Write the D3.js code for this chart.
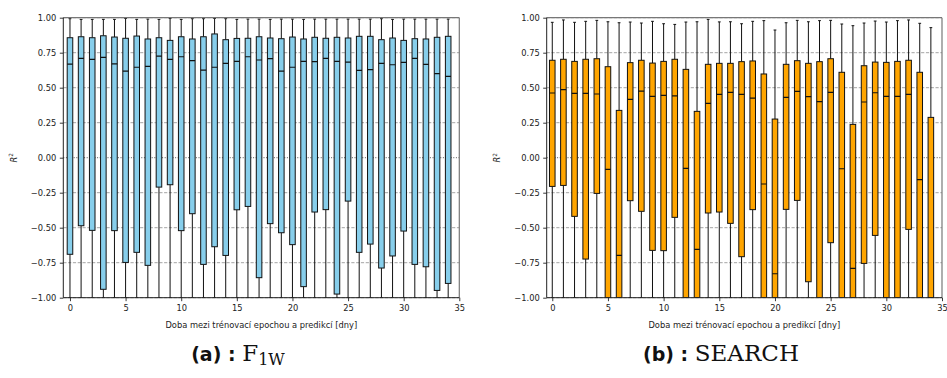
<!DOCTYPE html>
<html>
<head>
<meta charset="utf-8">
<script src="https://cdn.jsdelivr.net/npm/d3@7"></script>
<style>
  html, body { margin: 0; padding: 0; background: #fff; }
  svg { display: block; }
  .tick text { font-family: "DejaVu Sans", sans-serif; font-size: 8.3px; fill: #222; }
  .axis-label { font-family: "DejaVu Sans", sans-serif; font-size: 8.3px; fill: #222; }
</style>
</head>
<body>
<svg id="chart" width="947" height="378"></svg>
<script>
// Days between the training epoch and the prediction
const days = [0,1,2,3,4,5,6,7,8,9,10,11,12,13,14,15,16,17,18,19,20,21,22,23,24,25,26,27,28,29,30,31,32,33,34];

// Panel (a): F1W — R² distribution per day
const f1wHigh = [0.993,0.988,0.988,0.988,0.988,0.995,0.988,0.990,0.988,0.995,0.988,0.993,0.993,0.995,0.993,0.988,0.990,0.990,0.988,0.990,0.990,0.988,0.990,0.990,0.990,0.990,0.990,0.990,0.993,0.988,0.990,0.990,0.990,0.990,0.990];
const f1wQ3 = [0.857,0.864,0.857,0.871,0.862,0.853,0.869,0.848,0.857,0.838,0.864,0.848,0.864,0.884,0.843,0.852,0.853,0.864,0.855,0.850,0.862,0.848,0.860,0.853,0.860,0.855,0.867,0.867,0.843,0.855,0.838,0.850,0.848,0.860,0.867];
const f1wMedian = [0.669,0.710,0.703,0.717,0.670,0.619,0.646,0.653,0.726,0.703,0.721,0.693,0.626,0.646,0.674,0.688,0.721,0.698,0.707,0.619,0.646,0.688,0.686,0.710,0.688,0.683,0.624,0.629,0.674,0.664,0.681,0.710,0.667,0.600,0.581];
const f1wQ1 = [-0.690,-0.486,-0.519,-0.940,-0.521,-0.748,-0.676,-0.769,-0.210,-0.193,-0.521,-0.400,-0.762,-0.636,-0.698,-0.372,-0.348,-0.857,-0.471,-0.536,-0.621,-0.921,-0.388,-0.371,-0.974,-0.310,-0.676,-0.617,-0.788,-0.702,-0.524,-0.762,-0.779,-0.948,-0.898];
const f1wLow = [-1,-1,-1,-1,-1,-1,-1,-1,-1,-1,-1,-1,-1,-1,-1,-1,-1,-1,-1,-1,-1,-1,-1,-1,-1,-1,-1,-1,-1,-1,-1,-1,-1,-1,-1];

// Panel (b): SEARCH — R² distribution per day
const searchHigh = [0.967,0.984,0.967,0.974,0.981,0.971,0.964,0.969,0.962,0.974,0.957,0.952,0.969,0.971,0.988,0.970,0.971,0.957,0.974,0.979,0.912,0.964,0.981,0.971,0.979,0.981,0.955,0.943,0.962,0.976,0.969,0.979,0.984,0.960,0.929];
const searchQ3 = [0.696,0.703,0.688,0.703,0.707,0.650,0.338,0.679,0.696,0.676,0.688,0.703,0.631,0.331,0.667,0.674,0.674,0.686,0.691,0.598,0.276,0.667,0.693,0.674,0.686,0.707,0.610,0.238,0.657,0.683,0.681,0.688,0.696,0.610,0.288];
const searchMedian = [0.462,0.486,0.459,0.459,0.455,-0.083,-0.698,0.417,0.476,0.438,0.445,0.441,-0.076,-0.655,0.388,0.452,0.467,0.453,0.426,-0.188,-0.829,0.431,0.474,0.436,0.400,0.467,-0.079,-0.790,0.398,0.464,0.438,0.438,0.453,-0.157,-1.000];
const searchQ1 = [-0.205,-0.198,-0.419,-0.724,-0.255,-1,-1,-0.307,-0.383,-0.662,-0.664,-0.426,-1,-1,-0.395,-0.388,-0.469,-0.707,-0.371,-1,-1,-0.369,-0.305,-0.886,-1,-0.607,-1,-1,-0.755,-0.555,-1,-1,-0.512,-1,-1];
const searchLow = [-1,-1,-1,-1,-1,-1,-1,-1,-1,-1,-1,-1,-1,-1,-1,-1,-1,-1,-1,-1,-1,-1,-1,-1,-1,-1,-1,-1,-1,-1,-1,-1,-1,-1,-1];

// Axis ticks and labels
const yTicks = [-1, -0.75, -0.5, -0.25, 0, 0.25, 0.5, 0.75, 1];
const xTicks = [0, 5, 10, 15, 20, 25, 30, 35];
const xLabel = "Doba mezi trénovací epochou a predikcí [dny]";

const svg = d3.select("#chart");
svg.append("rect").attr("width", 947).attr("height", 378).attr("fill", "#fff");

function drawPanel(cfg) {
  const { id, left, right, xMin, fill, high, q3, median, q1, low, yLabelX } = cfg;
  const top = 17.7, bottom = 297.7;

  const x = d3.scaleLinear().domain([xMin, 35]).range([left, right]);
  const y = d3.scaleLinear().domain([-1, 1]).range([bottom, top]);

  const g = svg.append("g");

  svg.append("clipPath").attr("id", "clip-" + id)
    .append("rect").attr("x", left).attr("y", top)
    .attr("width", right - left).attr("height", bottom - top);

  // Horizontal grid: dashed, with a dotted zero line
  const grid = g.append("g");
  grid.selectAll("line")
    .data(yTicks)
    .join("line")
    .attr("x1", left).attr("x2", right)
    .attr("y1", d => y(d)).attr("y2", d => y(d))
    .attr("stroke", d => d === 0 ? "#444" : "#9a9a9a")
    .attr("stroke-width", 0.9)
    .attr("stroke-dasharray", d => d === 0 ? "1,1.6" : "3.2,1.6");

  const boxW = 0.5, capW = 0.25;
  const data = days.map((d, i) => ({ d, hi: high[i], q3: q3[i], med: median[i], q1: q1[i], lo: low[i] }));

  const marks = g.append("g").attr("clip-path", "url(#clip-" + id + ")");
  const item = marks.selectAll("g.box").data(data).join("g").attr("class", "box");

  // Whiskers
  item.append("line")
    .attr("x1", d => x(d.d)).attr("x2", d => x(d.d))
    .attr("y1", d => y(d.hi)).attr("y2", d => y(d.q3))
    .attr("stroke", "#111").attr("stroke-width", 1);
  item.append("line")
    .attr("x1", d => x(d.d)).attr("x2", d => x(d.d))
    .attr("y1", d => y(d.q1)).attr("y2", d => y(d.lo))
    .attr("stroke", "#111").attr("stroke-width", 1);
  // Caps
  item.append("line")
    .attr("x1", d => x(d.d - capW / 2)).attr("x2", d => x(d.d + capW / 2))
    .attr("y1", d => y(d.hi)).attr("y2", d => y(d.hi))
    .attr("stroke", "#111").attr("stroke-width", 1);
  item.append("line")
    .attr("x1", d => x(d.d - capW / 2)).attr("x2", d => x(d.d + capW / 2))
    .attr("y1", d => y(d.lo)).attr("y2", d => y(d.lo))
    .attr("stroke", "#111").attr("stroke-width", 1);
  // Boxes
  item.append("rect")
    .attr("x", d => x(d.d - boxW / 2))
    .attr("width", d => x(d.d + boxW / 2) - x(d.d - boxW / 2))
    .attr("y", d => y(d.q3))
    .attr("height", d => y(d.q1) - y(d.q3))
    .attr("fill", fill).attr("stroke", "#111").attr("stroke-width", 1);
  // Medians
  item.append("line")
    .attr("x1", d => x(d.d - boxW / 2)).attr("x2", d => x(d.d + boxW / 2))
    .attr("y1", d => y(d.med)).attr("y2", d => y(d.med))
    .attr("stroke", "#111").attr("stroke-width", 1.2);

  // Frame
  g.append("line").attr("x1", left).attr("x2", right).attr("y1", top).attr("y2", top)
    .attr("stroke", "#777").attr("stroke-width", 1.2);
  g.append("line").attr("x1", right).attr("x2", right).attr("y1", top).attr("y2", bottom)
    .attr("stroke", "#777").attr("stroke-width", 1.2);

  // Axes
  const yAxis = d3.axisLeft(y).tickValues(yTicks).tickFormat(d3.format(".2f"))
    .tickSize(3.5).tickPadding(3.5);
  const ya = g.append("g").attr("transform", `translate(${left},0)`).call(yAxis);
  const xAxis = d3.axisBottom(x).tickValues(xTicks).tickFormat(d3.format("d"))
    .tickSize(3.5).tickPadding(3.5);
  const xa = g.append("g").attr("transform", `translate(0,${bottom})`).call(xAxis);
  [ya, xa].forEach(a => {
    a.select(".domain").attr("stroke", "#222").attr("stroke-width", 1);
    a.selectAll(".tick line").attr("stroke", "#222").attr("stroke-width", 0.9);
  });
  // Only left and bottom spines come from the axes
  ya.select(".domain").attr("d", `M0,${top}V${bottom}`);
  xa.select(".domain").attr("d", `M${left},0H${right}`);

  // Axis titles
  g.append("text").attr("class", "axis-label")
    .attr("x", (left + right) / 2).attr("y", 327.5)
    .attr("text-anchor", "middle").text(xLabel);

  const yl = g.append("text").attr("class", "axis-label")
    .attr("transform", `translate(${yLabelX},${(top + bottom) / 2}) rotate(-90)`)
    .attr("text-anchor", "middle");
  yl.append("tspan").attr("font-style", "italic").text("R");
  yl.append("tspan").attr("font-size", "5.8px").attr("dy", "-3.2").text("2");
}

drawPanel({ id: "a", left: 63.3, right: 459.3, xMin: -0.6, fill: "#87ceeb",
  high: f1wHigh, q3: f1wQ3, median: f1wMedian, q1: f1wQ1, low: f1wLow, yLabelX: 16.5 });
drawPanel({ id: "b", left: 546.7, right: 942, xMin: -0.5, fill: "#ffa500",
  high: searchHigh, q3: searchQ3, median: searchMedian, q1: searchQ1, low: searchLow, yLabelX: 500 });

// Sub-figure captions
function caption(cx, tag, main, sub) {
  const t = svg.append("text").attr("x", cx).attr("y", 361).attr("text-anchor", "middle")
    .attr("fill", "#111");
  t.append("tspan").attr("font-family", "DejaVu Sans, sans-serif").attr("font-weight", "bold")
    .attr("font-size", "19px").text(tag + " : ");
  t.append("tspan").attr("font-family", "DejaVu Serif, serif").attr("font-size", "23px").text(main);
  if (sub) {
    t.append("tspan").attr("font-family", "DejaVu Serif, serif").attr("font-size", "16px")
      .attr("dy", "3.5").text(sub);
  }
}
caption(238, "(a)", "F", "1W");
caption(721, "(b)", "SEARCH", null);
</script>
</body>
</html>
